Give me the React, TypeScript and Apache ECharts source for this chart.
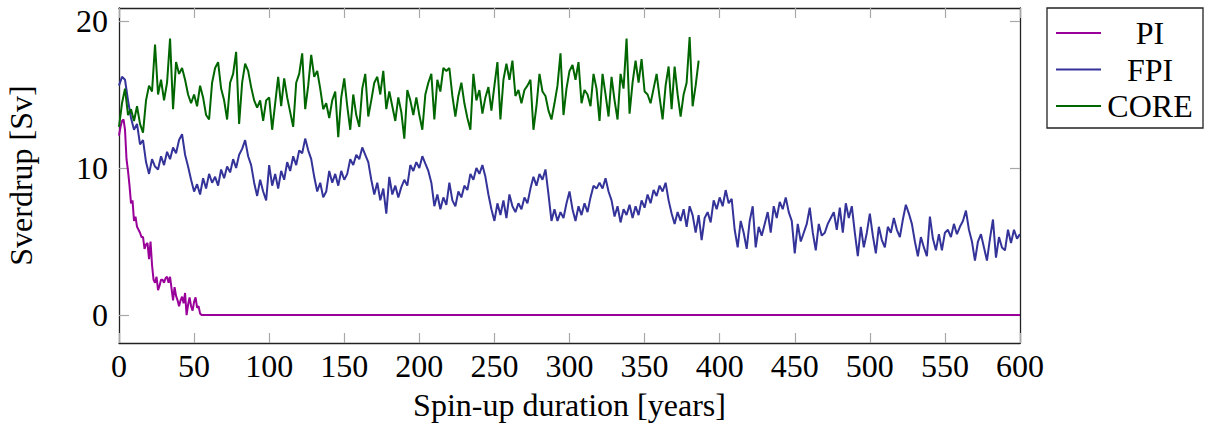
import React, { useEffect, useRef } from "react";
import * as echarts from "echarts";

const X_MIN = 0;
const X_MAX = 600;
const X_INTERVAL = 50;
const Y_MIN = -1.9;
const Y_MAX = 20.88;
const Y_TICKS = [0, 10, 20];

const SERIES_NAMES = ["PI", "FPI", "CORE"];

// PI: yearly values over the first decades, then flat at zero
const PI_YEARS = [
  0, 1, 2, 3, 4, 5, 6, 7, 8, 9, 10, 11, 12, 13, 14, 15, 16, 17, 18, 19, 20, 21, 22, 23, 24, 25, 26, 27,
  28, 29, 30, 31, 32, 33, 34, 35, 36, 37, 38, 39, 40, 41, 42, 43, 44, 45, 46, 47, 48, 49, 50, 51, 52,
  53, 54, 55, 600,
];
const PI_VALUES = [
  12.2, 12.8, 13.2, 13.3, 12.6, 10.6, 9.8, 8.8, 7.6, 7.8, 6.4, 6.7, 6.0, 5.8, 5.6, 5.3, 5.3, 4.5, 4.8,
  4.9, 3.8, 5.0, 3.4, 2.4, 2.2, 2.6, 1.7, 2.0, 2.4, 2.4, 2.2, 2.5, 2.6, 2.2, 2.6, 1.8, 1.0, 1.9, 1.3,
  1.0, 0.6, 1.0, 1.25, 0.8, 1.5, 0.0, 0.7, 1.2, 0.6, 0.3, 0.9, 1.2, 0.5, 0.6, 0.1, 0.0, 0.0,
];

// FPI and CORE: one value every 2 years, starting at year 0
const STEP_YEARS = 2;
const FPI_VALUES = [
  15.6, 16.2, 16.0, 14.6, 13.4, 12.6, 13.0, 11.6, 11.9, 10.4,
  9.6, 10.6, 10.1, 9.9, 10.8, 10.2, 11.1, 10.6, 11.4, 11.0,
  11.9, 12.3, 10.9, 10.1, 9.2, 8.4, 8.9, 8.2, 9.3, 8.6,
  9.6, 9.0, 9.4, 8.8, 9.9, 9.3, 10.1, 9.7, 10.6, 10.0,
  10.9, 11.3, 11.9, 10.8, 10.2, 9.0, 8.1, 9.2, 8.4, 7.8,
  10.2, 8.8, 9.6, 8.6, 9.8, 9.2, 10.4, 9.8, 10.8, 10.2,
  11.2, 11.0, 12.0, 11.2, 10.6, 9.4, 8.4, 9.0, 8.0, 8.4,
  9.8, 9.0, 9.6, 8.8, 9.8, 9.2, 9.6, 10.6, 10.2, 10.9,
  10.6, 11.4, 10.9, 10.4, 9.2, 8.2, 9.0, 7.8, 8.6, 6.9,
  9.4, 8.2, 8.8, 8.0, 8.7, 9.2, 8.8, 10.2, 9.8, 10.4,
  10.0, 10.8, 10.3, 9.8, 9.0, 7.4, 8.2, 7.2, 8.0, 7.5,
  9.0, 7.8, 7.4, 8.4, 8.0, 8.8, 8.5, 9.6, 9.2, 10.0,
  9.6, 10.2, 9.4, 8.2, 7.2, 6.4, 7.6, 6.8, 7.8, 6.6,
  8.2, 7.4, 7.0, 7.6, 7.2, 8.0, 7.6, 8.6, 9.4, 8.8,
  9.6, 9.2, 9.9, 8.2, 6.4, 7.2, 6.4, 7.0, 6.6, 7.6,
  8.4, 7.2, 6.4, 7.4, 6.8, 7.6, 7.0, 8.0, 8.8, 8.6,
  9.0, 8.6, 9.3, 8.4, 7.8, 6.7, 7.4, 6.3, 7.2, 6.8,
  7.5, 6.6, 7.4, 6.8, 7.8, 7.3, 8.2, 7.6, 8.5, 8.1,
  8.8, 8.4, 9.0, 7.8, 6.9, 6.2, 7.0, 6.4, 7.2, 6.0,
  7.4, 6.8, 5.6, 6.8, 5.1, 6.6, 7.0, 6.3, 7.8, 7.2,
  8.0, 7.4, 8.5, 7.6, 7.9, 5.8, 4.6, 6.4, 5.6, 4.5,
  6.4, 7.4, 4.6, 6.0, 5.4, 6.2, 7.0, 5.6, 7.4, 6.6,
  7.7, 7.2, 8.0, 7.0, 6.4, 4.2, 6.2, 5.0, 5.6, 6.2,
  7.3, 5.6, 4.4, 6.2, 5.4, 5.6, 6.2, 6.6, 7.0, 5.8,
  7.3, 5.6, 7.6, 6.6, 7.4, 5.6, 4.0, 6.0, 4.6, 5.6,
  6.9, 5.4, 4.2, 6.0, 5.1, 4.6, 6.0, 5.6, 6.6, 5.8,
  5.3, 6.5, 7.5, 6.9, 6.2, 5.0, 4.0, 5.3, 4.6, 4.0,
  6.7, 5.2, 4.4, 5.5, 4.4, 5.6, 5.8, 5.3, 6.2, 5.5,
  6.0, 6.4, 7.1, 5.8, 5.0, 3.7, 5.0, 5.5, 4.6, 3.7,
  5.2, 6.5, 3.9, 5.3, 4.6, 4.4, 5.8, 4.9, 5.8, 5.2,
  5.5,
];
const CORE_VALUES = [
  12.8, 14.4, 15.4, 13.6, 14.0, 13.2, 14.2, 13.0, 12.4, 14.6,
  15.6, 15.2, 18.4, 15.0, 16.0, 14.6, 15.8, 18.8, 14.0, 17.2,
  16.4, 16.8, 16.0, 15.0, 14.4, 15.0, 14.2, 15.6, 14.8, 13.6,
  13.3, 15.8, 16.8, 17.2, 15.4, 14.6, 13.3, 15.8, 16.4, 17.9,
  13.0, 15.8, 17.1, 16.6, 15.5, 14.6, 14.1, 14.6, 13.2, 14.6,
  14.8, 12.6, 14.4, 16.2, 14.2, 16.1, 14.8, 13.8, 12.8, 15.8,
  16.4, 17.8, 14.0, 15.6, 17.7, 16.2, 16.6, 15.4, 14.0, 14.4,
  13.4, 14.6, 15.2, 12.1, 14.8, 16.1, 14.2, 12.6, 15.0, 13.6,
  12.8, 15.4, 16.4, 13.5, 14.6, 15.8, 16.2, 15.0, 16.6, 14.0,
  15.2, 14.2, 13.2, 14.8, 13.8, 12.0, 15.3, 14.6, 13.6, 14.8,
  13.6, 12.6, 15.0, 15.8, 16.4, 13.3, 16.0, 15.2, 16.8, 16.6,
  16.8, 14.9, 13.5, 14.9, 15.8, 14.4, 13.4, 12.6, 16.4, 14.6,
  15.3, 13.7, 14.8, 15.5, 13.9, 15.6, 17.2, 13.3, 16.0, 17.1,
  16.0, 17.3, 14.9, 15.3, 14.4, 15.3, 15.6, 16.0, 12.6, 14.2,
  16.4, 15.2, 14.9, 13.9, 13.3, 14.4, 15.6, 17.8, 13.6, 15.4,
  16.6, 17.0, 16.0, 17.2, 14.4, 15.3, 15.0, 14.2, 16.4, 15.4,
  13.2, 16.4, 15.0, 13.5, 16.2, 14.6, 13.3, 16.4, 15.4, 18.8,
  13.7, 15.8, 17.3, 15.8, 17.4, 15.2, 15.0, 14.4, 15.4, 16.4,
  14.8, 13.3, 15.6, 16.9, 14.0, 16.9, 15.0, 13.5, 15.0, 15.8,
  18.9, 14.2, 15.6, 17.3,
];

const COLORS = ["#990099", "#333399", "#006600"];
const FONT = "'Liberation Serif', 'Times New Roman', 'DejaVu Serif', serif";
const FONT_SIZE = 32;

const stepPairs = (vals: number[]) => vals.map((v, i) => [i * STEP_YEARS, v]);

export default function App() {
  const ref = useRef<HTMLDivElement>(null);

  useEffect(() => {
    document.body.style.margin = "0";
    if (!ref.current) return;
    const chart = echarts.init(ref.current, undefined, { renderer: "svg" });

    const axisLine = { show: true, onZero: false, lineStyle: { color: "#222", width: 1.3 } };
    const tickStyle = { inside: true, length: 10, lineStyle: { color: "#a8a8a8", width: 1.2 } };
    const text = { fontFamily: FONT, fontSize: FONT_SIZE, color: "#000" };

    const piData = PI_YEARS.map((x, i) => [x, PI_VALUES[i]]);

    const lineSeries = (name: string, data: number[][], color: string) => ({
      name,
      type: "line",
      data,
      symbol: "none",
      showSymbol: false,
      lineStyle: { color, width: 2 },
      itemStyle: { color },
      xAxisIndex: 0,
      yAxisIndex: 0,
      z: 3,
    });

    chart.setOption({
      animation: false,
      backgroundColor: "#ffffff",
      textStyle: { fontFamily: FONT },
      grid: {
        left: 119,
        right: 186,
        top: 8,
        bottom: 81,
        containLabel: false,
        outerBoundsMode: "none",
      },
      legend: {
        data: SERIES_NAMES,
        orient: "vertical",
        left: 1047,
        top: 8,
        padding: [9, 9, 6, 9],
        icon: "rect",
        itemWidth: 45,
        itemHeight: 2,
        itemGap: 4.5,
        borderColor: "#222",
        borderWidth: 1.3,
        borderRadius: 0,
        formatter: (name: string) => `{c|${name}}`,
        textStyle: {
          ...text,
          rich: {
            c: { ...text, width: 88, align: "center", lineHeight: 32 },
          },
        },
      },
      xAxis: [
        {
          type: "value",
          min: X_MIN,
          max: X_MAX,
          interval: X_INTERVAL,
          position: "bottom",
          axisLine,
          axisTick: tickStyle,
          splitLine: { show: false },
          axisLabel: { ...text, margin: 7 },
          name: "Spin-up duration [years]",
          nameLocation: "middle",
          nameGap: 46,
          nameTextStyle: text,
        },
        {
          type: "value",
          min: X_MIN,
          max: X_MAX,
          interval: X_INTERVAL,
          position: "top",
          axisLine,
          axisTick: tickStyle,
          splitLine: { show: false },
          axisLabel: { show: false },
        },
      ],
      yAxis: [
        {
          type: "value",
          min: Y_MIN,
          max: Y_MAX,
          position: "left",
          axisLine,
          axisTick: { ...tickStyle, customValues: Y_TICKS },
          splitLine: { show: false },
          axisLabel: { ...text, margin: 11, customValues: Y_TICKS },
          name: "Sverdrup [Sv]",
          nameLocation: "middle",
          nameGap: 82,
          nameRotate: 90,
          nameTextStyle: text,
        },
        {
          type: "value",
          min: Y_MIN,
          max: Y_MAX,
          position: "right",
          axisLine,
          axisTick: { ...tickStyle, customValues: Y_TICKS },
          splitLine: { show: false },
          axisLabel: { show: false, customValues: Y_TICKS },
        },
      ],
      series: [
        lineSeries(SERIES_NAMES[0], piData, COLORS[0]),
        lineSeries(SERIES_NAMES[1], stepPairs(FPI_VALUES), COLORS[1]),
        lineSeries(SERIES_NAMES[2], stepPairs(CORE_VALUES), COLORS[2]),
      ],
    });

    return () => chart.dispose();
  }, []);

  return <div ref={ref} style={{ width: 1206, height: 424 }} />;
}
